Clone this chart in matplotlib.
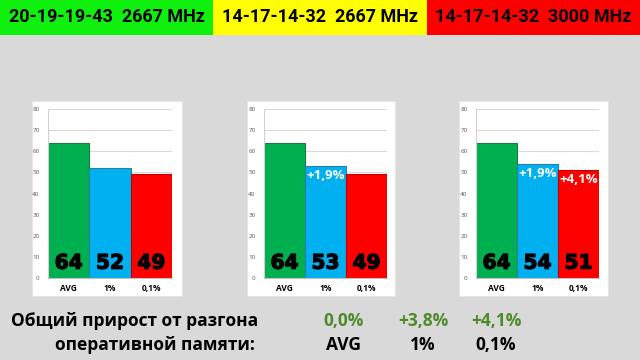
import matplotlib
matplotlib.use("Agg")
import matplotlib.pyplot as plt
import matplotlib.patheffects as pe
from matplotlib import font_manager
from matplotlib.patches import Rectangle

# data
headers = ["20-19-19-43  2667 MHz", "14-17-14-32  2667 MHz", "14-17-14-32  3000 MHz"]
header_colors = ["#0ff00f", "#ffff00", "#ff0000"]
categories = ["AVG", "1%", "0,1%"]
fps_values = [
    [64, 52, 49],
    [64, 53, 49],
    [64, 54, 51],
]
gain_labels = [
    [None, None, None],
    [None, "+1,9%", None],
    [None, "+1,9%", "+4,1%"],
]
total_gain = ["0,0%", "+3,8%", "+4,1%"]
bar_colors = ["#00b050", "#00b0f0", "#ff0000"]
edge_colors = ["#1e7a3f", "#2a7fa6", "#c00000"]

# fonts
installed = {f.name for f in font_manager.fontManager.ttflist}
narrow = "Liberation Sans Narrow" if "Liberation Sans Narrow" in installed else "Roboto"
plt.rcParams["font.family"] = ["Open Sans", "DejaVu Sans"]

W, H = 640, 360
fig = plt.figure(figsize=(6.4, 3.6), dpi=100)
fig.patch.set_facecolor("#d9d9d9")


def fx(px):
    return px / W


def fy(py):
    return 1 - py / H


# header strip
for i, (txt, col) in enumerate(zip(headers, header_colors)):
    x0 = i * W / 3
    fig.patches.append(Rectangle((fx(x0), fy(35)), fx(W / 3), 35 / H,
                                 transform=fig.transFigure, facecolor=col,
                                 edgecolor="none", zorder=-2))
    fig.text(fx(x0 + W / 6), fy(17), txt, ha="center", va="center",
             fontsize=13, fontweight="bold", family=narrow, color="black")

# panels: white card (left, right) and plot area (left, right)
cards = [(32, 182), (247, 395), (459, 608)]
plots = [(48, 172), (264, 387), (476, 599)]
ytop, ybot = 109, 278

for k in range(3):
    cl, cr = cards[k]
    fig.patches.append(Rectangle((fx(cl), fy(296)), fx(cr - cl), (296 - 101) / H,
                                 transform=fig.transFigure, facecolor="white",
                                 edgecolor="#e6e6e6", linewidth=0.8, zorder=-2))
    pl, pr = plots[k]
    ax = fig.add_axes([fx(pl), fy(ybot), fx(pr - pl), (ybot - ytop) / H])
    ax.set_zorder(2)
    ax.set_facecolor("white")
    x = range(len(categories))
    ax.bar(x, fps_values[k], width=1.0, color=bar_colors,
           edgecolor=edge_colors, linewidth=0.8, zorder=2)
    ax.set_xlim(-0.5, 2.5)
    ax.set_ylim(0, 80)
    ax.set_yticks(range(0, 81, 10))
    ax.yaxis.grid(True, color="#d9d9d9", linewidth=0.8, zorder=0)
    ax.set_axisbelow(True)
    ax.tick_params(axis="y", length=0, labelsize=4.5, labelcolor="#595959", pad=6)
    ax.tick_params(axis="x", length=0, pad=4)
    ax.set_xticks(list(x))
    ax.set_xticklabels(categories, fontsize=6, fontweight="bold")
    for s in ["top", "right"]:
        ax.spines[s].set_visible(False)
    ax.spines["left"].set_color("#d0d0d0")
    ax.spines["bottom"].set_color("#bfbfbf")
    for i, v in enumerate(fps_values[k]):
        ax.text(i, 7, str(v), ha="center", va="center", fontsize=14.5,
                fontweight="heavy", family="DejaVu Sans", color="black", zorder=3,
                path_effects=[pe.withStroke(linewidth=0.9, foreground="black")])
        g = gain_labels[k][i]
        if g:
            ax.text(i, v - 4.6, g, ha="center", va="center", fontsize=9.5,
                    fontweight="bold", color="white", zorder=3)

# bottom summary
fig.text(fx(258), fy(321), "Общий прирост от разгона", ha="right", va="center",
         fontsize=12.5, fontweight="bold", color="black")
fig.text(fx(255), fy(345), "оперативной памяти:", ha="right", va="center",
         fontsize=12.5, fontweight="bold", color="black")
col_x = [344, 423, 496]
for cx, g, c in zip(col_x, total_gain, categories):
    fig.text(fx(cx), fy(321), g, ha="center", va="center", fontsize=12.5,
             fontweight="bold", color="#4e8b2a")
    fig.text(fx(cx), fy(345), c, ha="center", va="center", fontsize=12.5,
             fontweight="bold", color="black")

fig.savefig("out.png", dpi=100, facecolor=fig.get_facecolor())
